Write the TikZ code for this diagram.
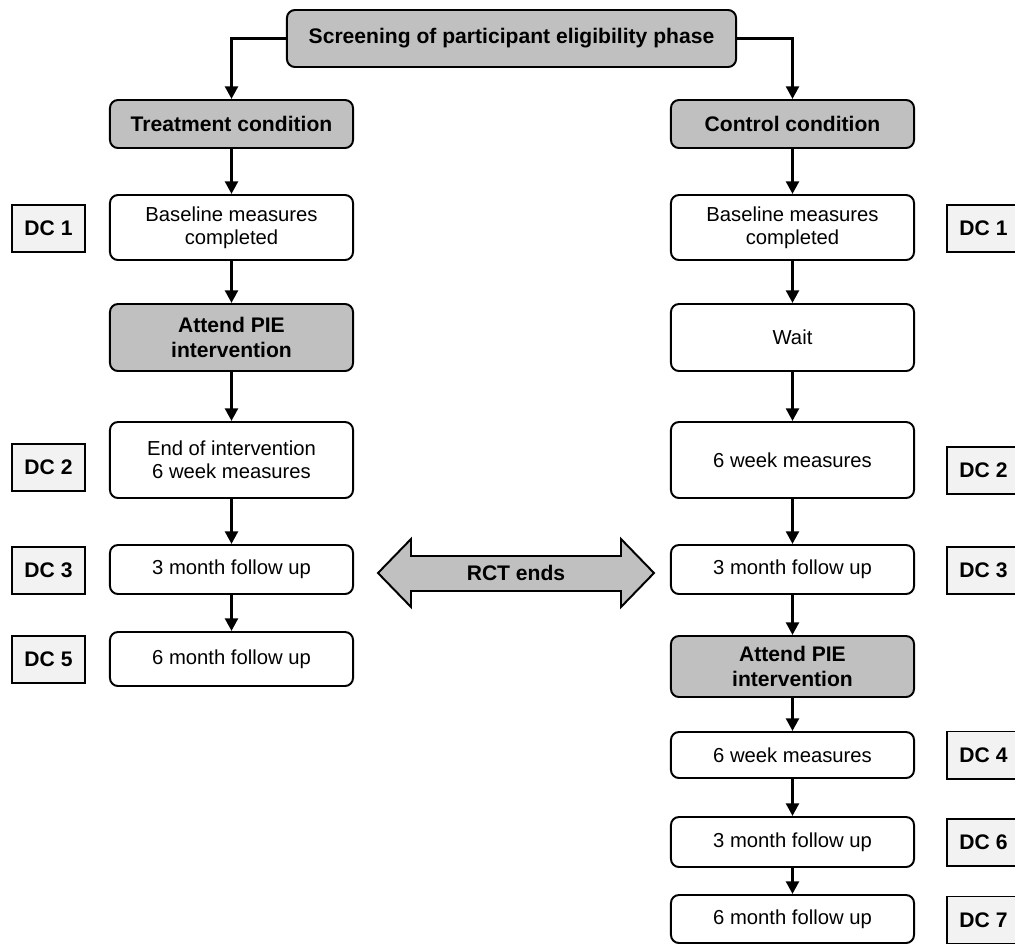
\documentclass[tikz,border=0pt]{standalone}
\usepackage{fontspec}
\setmainfont{Liberation Sans}
\usetikzlibrary{arrows.meta}

\definecolor{headgrey}{HTML}{C0C0C0}
\definecolor{dcgrey}{HTML}{F2F2F2}

\tikzset{
  stage/.style={draw, line width=1.4pt, rounded corners=0.2cm, fill=white,
    minimum width=6.075cm, align=center, inner sep=2pt,
    font=\fontsize{14.4}{16.5}\selectfont},
  headstage/.style={stage, fill=headgrey, font=\bfseries\fontsize{15}{18}\selectfont},
  tall/.style={minimum height=#1*0.025cm},
  dclabel/.style={draw, line width=1.4pt, fill=dcgrey, minimum width=1.825cm,
    minimum height=1.175cm, font=\bfseries\fontsize{15}{18}\selectfont},
  flow/.style={-{Triangle[length=9pt,width=9pt]}, line width=2.4pt}
}

\begin{document}
\begin{tikzpicture}[x=0.025cm, y=-0.025cm]
\useasboundingbox (0,0) rectangle (1015,943);

% top of the flow
\node[headstage, tall=57, minimum width=11.225cm] (screen) at (511.5,38.5) {Screening of participant eligibility phase};
\node[headstage, tall=48] (treat) at (231.5,124) {Treatment condition};
\node[headstage, tall=48] (ctrl) at (792.5,124) {Control condition};
\draw[flow] (screen.west) -| (treat.north);
\draw[flow] (screen.east) -| (ctrl.north);

% treatment arm
\node[stage, tall=65] (basel) at (231.5,227.5) {Baseline measures\\completed};
\node[headstage, tall=67] (attl) at (231.5,337.5) {Attend PIE\\intervention};
\node[stage, tall=76] (endl) at (231.5,460) {End of intervention\\6 week measures};
\node[stage, tall=49] (mthreel) at (231.5,569.5) {3 month follow up};
\node[stage, tall=54] (msixl) at (231.5,659) {6 month follow up};
\draw[flow] (treat) -- (basel);
\draw[flow] (basel) -- (attl);
\draw[flow] (attl) -- (endl);
\draw[flow] (endl) -- (mthreel);
\draw[flow] (mthreel) -- (msixl);

% control arm
\node[stage, tall=65] (baser) at (792.5,227.5) {Baseline measures\\completed};
\node[stage, tall=67] (wait) at (792.5,337.5) {Wait};
\node[stage, tall=76] (wsixr) at (792.5,460) {6 week measures};
\node[stage, tall=49] (mthreer) at (792.5,569.5) {3 month follow up};
\node[headstage, tall=61] (attr) at (792.5,666.5) {Attend PIE\\intervention};
\node[stage, tall=46] (wsixlate) at (792.5,755) {6 week measures};
\node[stage, tall=50] (mthreelate) at (792.5,842) {3 month follow up};
\node[stage, tall=48] (msixlate) at (792.5,919) {6 month follow up};
\draw[flow] (ctrl) -- (baser);
\draw[flow] (baser) -- (wait);
\draw[flow] (wait) -- (wsixr);
\draw[flow] (wsixr) -- (mthreer);
\draw[flow] (mthreer) -- (attr);
\draw[flow] (attr) -- (wsixlate);
\draw[flow] (wsixlate) -- (mthreelate);
\draw[flow] (mthreelate) -- (msixlate);

% data collection points
\foreach \n/\y/\t in {dca/228.5/DC 1, dcb/467.5/DC 2, dcc/570.5/DC 3, dce/659.5/DC 5} {
  \node[dclabel] (\n l) at (48.5,\y) {\t};
}
\foreach \n/\y/\t in {dca/228.5/DC 1, dcb/470.5/DC 2, dcc/570.5/DC 3, dcd/755/DC 4, dcf/842.5/DC 6, dcg/920/DC 7} {
  \node[dclabel] (\n r) at (983.5,\y) {\t};
}

% end of the trial
\draw[line width=1.4pt, fill=headgrey, line join=miter]
  (378,573) -- (411,539) -- (411,556) -- (621,556) -- (621,539) -- (654,573)
  -- (621,607) -- (621,591) -- (411,591) -- (411,607) -- cycle;
\node[font=\bfseries\fontsize{15}{18}\selectfont] (rct) at (516,573) {RCT ends};
\end{tikzpicture}
\end{document}
